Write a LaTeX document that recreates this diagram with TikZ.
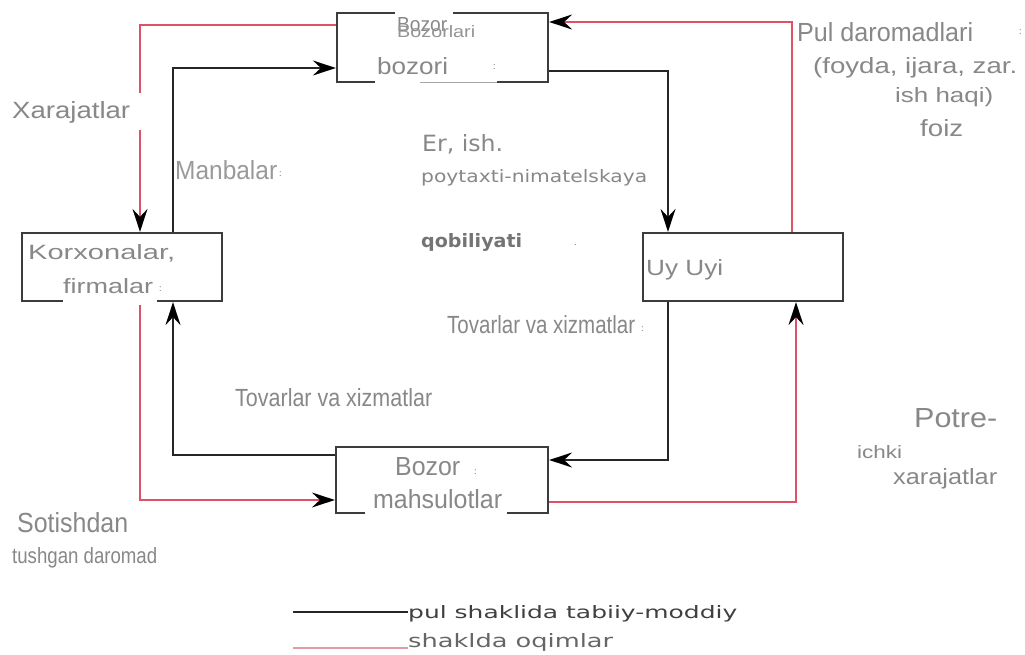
\documentclass[tikz,border=0pt]{standalone}
\usepackage{fontspec}
\setmainfont{Liberation Sans}
\newfontfamily\dvs{DejaVu Sans}
\usetikzlibrary{arrows.meta}
\definecolor{txt}{HTML}{888888}
\definecolor{txtdark}{HTML}{747474}
\definecolor{boxline}{HTML}{3C3C3C}
\definecolor{flowred}{HTML}{DD5266}
\definecolor{legred}{HTML}{E39AA5}
% text scaled to a given width and height (in bp)
\newcommand\fitbox[3]{\resizebox{#1bp}{#2bp}{#3}}
\begin{document}
\begin{tikzpicture}[x=1bp,y=-1bp,
  unit/.style={draw=boxline,line width=2.2bp,inner sep=0pt,fill=none},
  tip/.style={-{Stealth[length=23bp,width=15bp,inset=8bp,color=black]}},
  blackflow/.style={draw=black!85,line width=1.8bp,tip},
  redflow/.style={draw=flowred,line width=1.8bp,tip},
  lbl/.style={anchor=base west,inner sep=0pt,text=txt},
  dotmark/.style={anchor=base west,inner sep=0pt,text=txt!70!black,font=\fontsize{9}{9}\selectfont},
  mask/.style={fill=white,draw=none}]
\useasboundingbox (0,0) rectangle (1025,655);
\fill[white] (0,0) rectangle (1025,655);

% the four units of the circuit
\node[unit,minimum width=211bp,minimum height=69bp] (top) at (442.5,47.5) {};
\node[unit,minimum width=200bp,minimum height=68bp] (korx) at (122,267) {};
\node[unit,minimum width=200bp,minimum height=68bp] (uy) at (743,267) {};
\node[unit,minimum width=212bp,minimum height=66bp] (bot) at (442,480) {};

% flows between the units
\draw[redflow] (top.west |- 0,25) -| (korx.north -| 140,0);
\draw[blackflow] (korx.north -| 173,0) |- (top.west |- 0,68);
\draw[blackflow] (top.east |- 0,71) -| (uy.north -| 668,0);
\draw[redflow] (uy.north -| 792,0) |- (top.east |- 0,22);
\draw[blackflow] (uy.south -| 668,0) |- (bot.east |- 0,460);
\draw[redflow] (bot.east |- 0,502) -| (uy.south -| 796,0);
\draw[blackflow] (bot.west |- 0,455) -| (korx.south -| 173,0);
\draw[redflow] (korx.south -| 140,0) |- (bot.west |- 0,500);

% white text backgrounds breaking lines and borders
\fill[mask] (134,93) rectangle (147,130);
\fill[mask] (395,9) rectangle (453,17);
\fill[mask] (375,78) rectangle (497,86);
\draw[black!35,line width=0.8bp] (420,82) -- (497,82);
\fill[mask] (63,297) rectangle (157,305);
\fill[mask] (365,509) rectangle (507,517);

% labels of the units
\node[lbl] (tb1) at (397,32) {\fitbox{50}{14}{Bozor}};
\node[lbl,text=txt!90] (tb2) at (397,38) {\fitbox{78}{12}{Bozorlari}};
\node[lbl] (tb3) at (377,75) {\fitbox{71}{17}{bozori}};
\node[dotmark] (tb4) at (493,70) {:};
\node[lbl] (k1) at (28,259) {\fitbox{147}{15}{Korxonalar,}};
\node[lbl] (k2) at (63,293) {\fitbox{90}{15}{firmalar}};
\node[dotmark] (k3) at (159,291) {:};
\node[lbl] (u1) at (646,275) {\fitbox{77}{16}{Uy Uyi}};
\node[lbl] (b1) at (395,475) {\fitbox{65}{18}{Bozor}};
\node[dotmark] (b2) at (474,474) {:};
\node[lbl] (b3) at (373,508) {\fitbox{129}{19}{mahsulotlar}};

% labels of the flows
\node[lbl] (pul1) at (797,42) {\fitbox{176}{19}{Pul daromadlari}};
\node[dotmark] (pul0) at (1019,35) {:};
\node[lbl] (pul2) at (813,74) {\fitbox{204}{16}{(foyda, ijara, zar.}};
\node[lbl] (pul3) at (895,103) {\fitbox{98}{15}{ish haqi)}};
\node[lbl] (pul4) at (920,137) {\fitbox{43}{17}{foiz}};
\node[lbl] (xar) at (12,119) {\fitbox{118}{17}{Xarajatlar}};
\node[lbl,text=txt!85] (man) at (175,180) {\fitbox{102}{19}{Manbalar}};
\node[dotmark] (man0) at (279,177) {:};
\node[lbl] (er1) at (422,152) {\fitbox{81}{17}{\dvs Er, ish.}};
\node[lbl] (er2) at (421,183) {\fitbox{226}{13}{\dvs poytaxti-nimatelskaya}};
\node[lbl,text=txtdark] (er3) at (421,247) {\fitbox{101}{14}{\dvs\bfseries qobiliyati}};
\node[dotmark] (er4) at (574,245) {.};
\node[lbl] (tov1) at (447,333) {\fitbox{188}{18}{Tovarlar va xizmatlar}};
\node[dotmark] (tov0) at (641,331) {:};
\node[lbl] (tov2) at (235,406) {\fitbox{197}{18}{Tovarlar va xizmatlar}};
\node[lbl] (po1) at (914,427) {\fitbox{83}{19}{Potre-}};
\node[lbl] (po2) at (857,458) {\fitbox{45}{13}{ichki}};
\node[lbl] (po3) at (893,484) {\fitbox{104}{16}{xarajatlar}};
\node[lbl] (sot1) at (17,532) {\fitbox{111}{20}{Sotishdan}};
\node[lbl] (sot2) at (12,563) {\fitbox{145}{16}{tushgan daromad}};

% legend
\node[lbl,text=black!75] (leg1) at (408,618) {\fitbox{329}{13}{\dvs pul shaklida tabiiy-moddiy}};
\node[lbl,text=black!60] (leg2) at (408,647) {\fitbox{205}{14}{\dvs shaklda oqimlar}};
\coordinate (la) at (293,612);
\coordinate (lb) at (293,648);
\draw[black!85,line width=1.8bp] (la) -- (la -| leg1.west);
\draw[legred,line width=2bp] (lb) -- (lb -| leg2.west);
\end{tikzpicture}
\end{document}
